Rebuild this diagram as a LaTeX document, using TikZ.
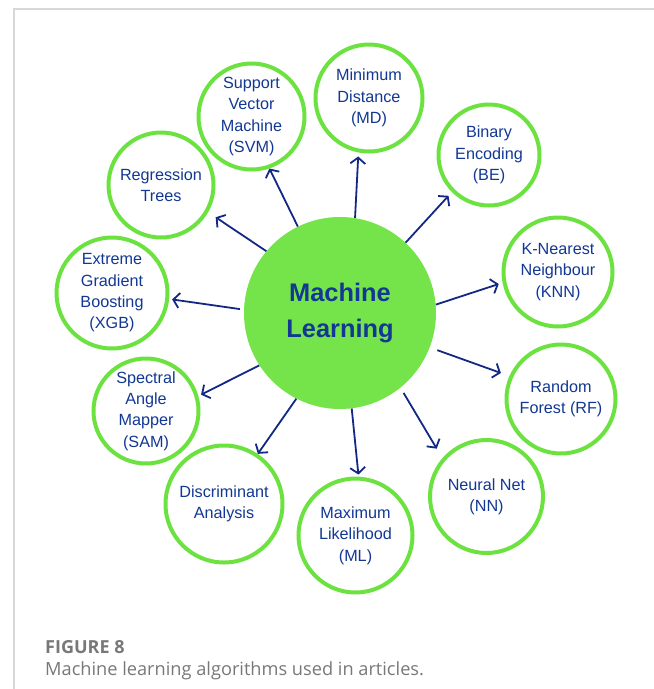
\documentclass[tikz,border=0pt]{standalone}
\usepackage{fontspec}
\setmainfont{Liberation Sans}
\newfontfamily\captionfont{Open Sans}
\usepackage{tikz}
\usetikzlibrary{positioning, arrows.meta, calc}

\definecolor{ringgreen}{RGB}{108,226,64}
\definecolor{hubgreen}{RGB}{117,228,74}
\definecolor{labelblue}{RGB}{18,56,148}
\definecolor{arrowblue}{RGB}{18,40,132}
\definecolor{framegray}{RGB}{216,216,216}
\definecolor{captiongray}{RGB}{120,120,120}

\begin{document}
\begin{tikzpicture}[x=1pt, y=-1pt,
                algo/.style={circle, draw=ringgreen, line width=4pt, fill=white, align=center, inner sep=0pt, minimum size=#1, text=labelblue, font=\fontsize{16.2}{21.3}\selectfont},
                hub/.style={circle, fill=hubgreen, minimum size=192pt, align=center, text=labelblue, font=\bfseries\fontsize{25.4}{36}\selectfont},
                arr/.style={-{Straight Barb[length=6pt, width=15pt]}, line width=1.8pt, draw=arrowblue},
                capt/.style={anchor=base west, inner sep=0pt, text=captiongray},
            ]
            \useasboundingbox (0,0) rectangle (654,689);

            % Page frame:
            \draw[framegray, line width=1.5pt] (14,689) -- (14,9) -- (654,9);

            % Central node:
            \node[hub] (hub) at (340,313) {Machine\\Learning};

            % Algorithms round the centre, clockwise from the top:
            \node[algo=106pt] (svm) at (251.5,116.5) {Support\\Vector\\Machine\\(SVM)};
            \node[algo=107pt] (md)  at (369,98)      {Minimum\\Distance\\(MD)};
            \node[algo=101pt] (be)  at (489,155)     {Binary\\Encoding\\(BE)};
            \node[algo=109pt] (knn) at (558,272)     {K-Nearest\\Neighbour\\(KNN)};
            \node[algo=109pt] (rf)  at (561,399)     {Random\\Forest (RF)};
            \node[algo=113pt] (nn)  at (486.5,496.5) {Neural Net\\(NN)};
            \node[algo=114pt] (mlh) at (355.5,535.5) {Maximum\\Likelihood\\(ML)};
            \node[algo=117pt] (da)  at (224,504)     {Discriminant\\Analysis};
            \node[algo=105pt] (sam) at (146,411)     {Spectral\\Angle\\Mapper\\(SAM)};
            \node[algo=111pt] (xgb) at (112,293)     {Extreme\\Gradient\\Boosting\\(XGB)};
            \node[algo=105pt] (rt)  at (161,185)     {Regression\\Trees};

            % Arrows from the centre out to each algorithm:
            \draw[arr] (hub.116.6) -- (svm.-71.6);
            \draw[arr, shorten >=4pt] (hub.81.5) -- (md.-101.3);
            \draw[arr, shorten >=5pt] (hub.47.9) -- (be.-135);
            \draw[arr, shorten >=4pt] (hub.5.8) -- (knn.-169.8);
            \draw[arr, shorten >=9pt, shorten <=8pt] (hub.-21.9) -- (rf.156.5);
            \draw[arr, shorten >=11pt, shorten <=6pt] (hub.-51.8) -- (nn.139);
            \draw[arr, shorten >=2pt] (hub.-83.5) -- (mlh.87.7);
            \draw[arr] (hub.-117.6) -- (da.56);
            \draw[arr, shorten >=3pt] (hub.-147.5) -- (sam.16);
            \draw[arr, shorten >=3pt, shorten <=4pt] (hub.178.3) -- (xgb.-6.4);
            \draw[arr, shorten >=9pt] (hub.140.1) -- (rt.-30.5);

            % Caption:
            \node[capt, font=\captionfont\bfseries\fontsize{18}{20}\selectfont] (fig) at (45,653) {FIGURE 8};
            \node[capt, font=\captionfont\fontsize{18.2}{20}\selectfont] (cap) at (45,675) {Machine learning algorithms used in articles.};
        \end{tikzpicture}
\end{document}
